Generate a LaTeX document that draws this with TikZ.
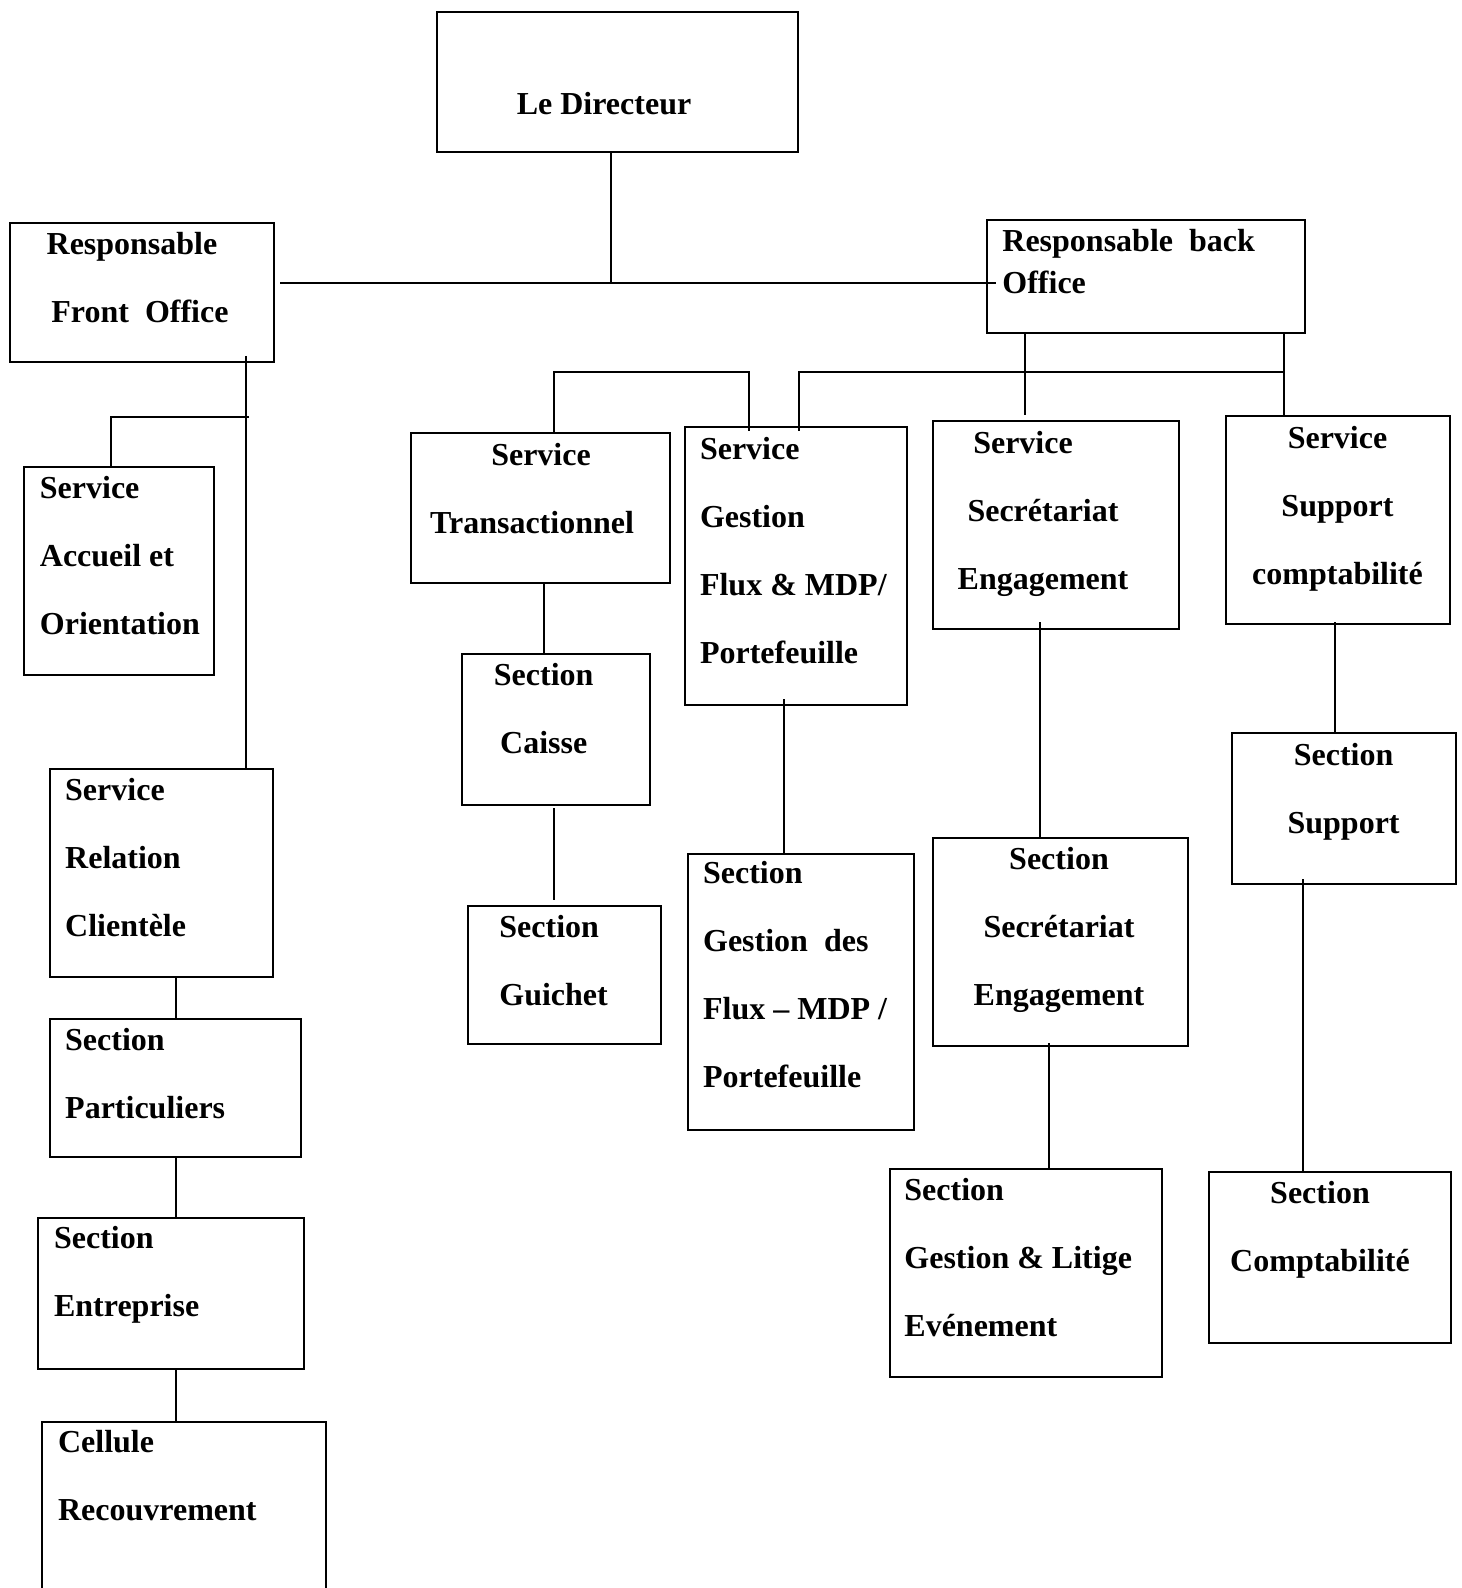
\documentclass[tikz,border=0pt]{standalone}
\usepackage{fontspec}
\setmainfont{Liberation Serif}
\usetikzlibrary{positioning,fit,calc}

\begin{document}
\begin{tikzpicture}[
  x=0.5pt, y=-0.5pt,
  box/.style={draw, line width=1.4pt, inner sep=0pt},
  txt/.style={inner sep=0pt, yshift=10.5pt, font=\fontsize{16pt}{34pt}\selectfont\bfseries,
              execute at begin node={\rule{0pt}{12pt}}},
  lft/.style={txt, align=left, anchor=north west},
  ctr/.style={txt, align=center, anchor=north},
  link/.style={line width=1pt},
]
\useasboundingbox (0,0) rectangle (1461,1588);

% ---- Direction
\node[box, fit={(437,12) (798,152)}] (dir) {};
\node[ctr] (dir-t) at (604,111) {Le Directeur};

\node[box, fit={(10,223) (274,362)}] (front) {};
\node[ctr] (front-t) at (140,253) {Responsable\hspace*{8pt}\\Front~~Office};

\node[box, fit={(987,220) (1305,333)}] (back) {};
\node[lft, font=\fontsize{16pt}{20.75pt}\selectfont\bfseries] (back-t) at (1002,250)
     {Responsable~~back\\Office};

% ---- Front office
\node[box, fit={(24,467) (214,675)}] (accueil) {};
\node[lft] (accueil-t) at (39.5,497) {Service\\Accueil et\\Orientation};

\node[box, fit={(50,769) (273,977)}] (relation) {};
\node[lft] (relation-t) at (64.8,799) {Service\\Relation\\Clientèle};

\node[box, fit={(50,1019) (301,1157)}] (partic) {};
\node[lft] (partic-t) at (64.8,1049) {Section\\Particuliers};

\node[box, fit={(38,1218) (304,1369)}] (entre) {};
\node[lft] (entre-t) at (53.7,1247) {Section\\Entreprise};

\node[box, fit={(42,1422) (326,1630)}] (cellule) {};
\node[lft] (cellule-t) at (57.7,1451) {Cellule\\Recouvrement};

% ---- Back office
\node[box, fit={(411,433) (670,583)}] (trans) {};
\node[ctr] (trans-t) at (532,463.7) {\hspace*{9pt}Service\\Transactionnel};

\node[box, fit={(462,654) (650,805)}] (caisse) {};
\node[ctr] (caisse-t) at (543.7,683.4) {Section\\Caisse};

\node[box, fit={(468,906) (661,1044)}] (guichet) {};
\node[lft] (guichet-t) at (499,935.6) {Section\\Guichet};

\node[box, fit={(685,427) (907,705)}] (gestion) {};
\node[lft] (gestion-t) at (699.6,457.6) {Service\\Gestion\\Flux \& MDP/\\Portefeuille};

\node[box, fit={(688,854) (914,1130)}] (sflux) {};
\node[lft] (sflux-t) at (702.7,881.9) {Section\\Gestion~~des\\Flux – MDP /\\Portefeuille};

\node[box, fit={(933,421) (1179,629)}] (secr) {};
\node[ctr] (secr-t) at (1043,451.6) {Service\hspace*{20pt}\\Secrétariat\\Engagement};

\node[box, fit={(933,838) (1188,1046)}] (ssecr) {};
\node[ctr] (ssecr-t) at (1059,867.7) {Section\\Secrétariat\\Engagement};

\node[box, fit={(890,1169) (1162,1377)}] (litige) {};
\node[lft] (litige-t) at (904,1198.8) {Section\\Gestion \& Litige\\Evénement};

\node[box, fit={(1226,416) (1450,624)}] (supc) {};
\node[ctr] (supc-t) at (1337.5,446.5) {Service\\Support\\comptabilité};

\node[box, fit={(1232,733) (1456,884)}] (ssup) {};
\node[ctr] (ssup-t) at (1343.6,763.4) {Section\\Support};

\node[box, fit={(1209,1172) (1451,1343)}] (scompt) {};
\node[ctr] (scompt-t) at (1320,1201.8) {Section\\Comptabilité};

% ---- Junctions
\coordinate (jdir) at (610.5,283.5);
\coordinate (jfo)  at (246,356);
\coordinate (jacc) at (249,417);
\coordinate (jtg)  at (749,372);
\coordinate (jbo)  at (1284,372);
\coordinate (jges) at (784,699);
\coordinate (jsec) at (1040,622);
\coordinate (jsse) at (1049,1043);
\coordinate (jsup) at (1335,622);
\coordinate (jssu) at (1303,879);

% ---- Lines
\draw[link] (dir.south -| jdir) -- (jdir);
\draw[link] ($(front.east |- jdir)+(5,0)$) -- ($(back.west |- jdir)+(10,0)$);
\draw[link] (jfo) -- (jfo |- relation.north);
\draw[link] (jacc) -| ([xshift=-4pt]accueil.north);
\draw[link] (partic.north |- relation.south) -- (partic.north);
\draw[link] (partic.south) -- (partic.south |- entre.north);
\draw[link] (entre.south -| partic.south) -- (partic.south |- cellule.north);

\draw[link] ($(trans.north)+(13,0)$) |- (jtg) -- ($(jtg |- gestion.north)+(0,5)$);
\draw[link] ($(gestion.north)+(3,5)$) |- (jbo);
\draw[link] (back.south -| jbo) -- (jbo |- supc.north);
\draw[link] ($(back.south)+(-121,0)$) -- ($(secr.north)+(-31,-5)$);
\draw[link] ($(trans.south)+(3.5,0)$) -- ($(trans.south |- caisse.north)+(3.5,0)$);
\draw[link] ($(caisse.south)+(-2,2)$) -- ($(guichet.north)+(-10.5,-5)$);
\draw[link] (jges) -- (jges |- sflux.north);
\draw[link] (jsec) -- (jsec |- ssecr.north);
\draw[link] (jsse) -- (jsse |- litige.north);
\draw[link] (jsup) -- (jsup |- ssup.north);
\draw[link] (jssu) -- (jssu |- scompt.north);

\end{tikzpicture}
\end{document}
